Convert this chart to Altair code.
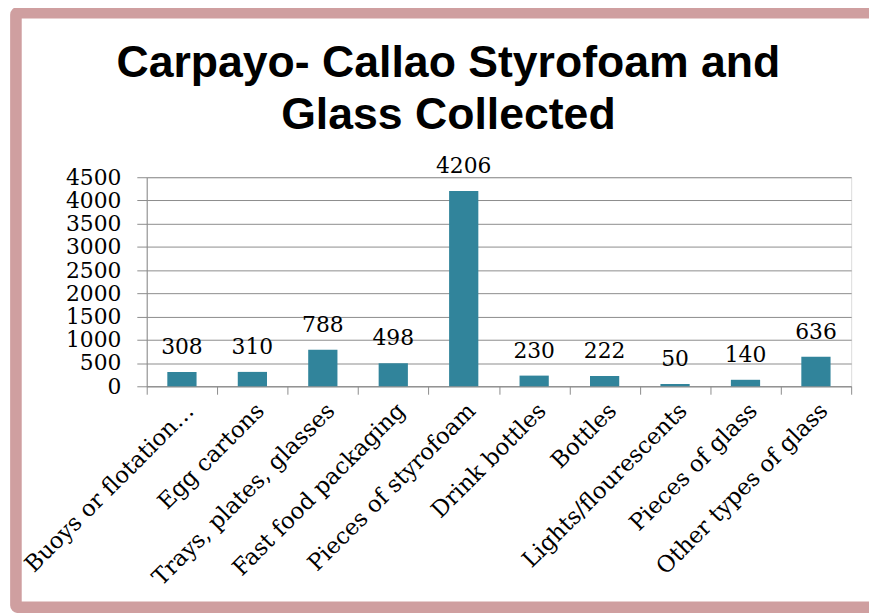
import altair as alt
import pandas as pd

# ---- data ----
categories = [
    "Buoys or flotation…",
    "Egg cartons",
    "Trays, plates, glasses",
    "Fast food packaging",
    "Pieces of styrofoam",
    "Drink bottles",
    "Bottles",
    "Lights/flourescents",
    "Pieces of glass",
    "Other types of glass",
]
counts = [308, 310, 788, 498, 4206, 230, 222, 50, 140, 636]
y_tick_values = [0, 500, 1000, 1500, 2000, 2500, 3000, 3500, 4000, 4500]
title_lines = ["Carpayo- Callao Styrofoam and", "Glass Collected"]

# ---- styling ----
TEAL = "#31849B"
GRID = "#8C8C8C"
PINK = "#CF9FA0"
SERIF = "DejaVu Serif"
TITLE_FONT = "Liberation Sans"

W, H = 711, 211

df = pd.DataFrame({"item": categories, "count": counts})

x_enc = alt.X(
    "item:N",
    sort=categories,
    scale=alt.Scale(paddingInner=0, paddingOuter=0),
    axis=alt.Axis(
        title=None,
        labelAngle=-45,
        labelFont=SERIF,
        labelFontSize=23,
        labelColor="black",
        labelPadding=5,
        labelLimit=500,
        labelOverlap=False,
        tickBand="extent",
        tickSize=8,
        tickColor=GRID,
        domainColor=GRID,
        grid=False,
    ),
)
y_enc = alt.Y(
    "count:Q",
    scale=alt.Scale(domain=[0, 4500], nice=False),
    axis=alt.Axis(
        title=None,
        values=y_tick_values,
        format="d",
        grid=True,
        gridColor=GRID,
        gridWidth=1,
        tickSize=10,
        tickColor=GRID,
        domainColor=GRID,
        labelFont=SERIF,
        labelFontSize=22,
        labelColor="black",
        labelPadding=16,
        labelOverlap=False,
    ),
)

base = alt.Chart(df).encode(x=x_enc, y=y_enc)
bars = base.mark_bar(color=TEAL, width=alt.RelativeBandSize(0.415))
labels = base.mark_text(
    dy=-18, baseline="alphabetic", font=SERIF, fontSize=22, color="black"
).encode(text="count:Q")

# decorative picture frame around the chart
frame = (
    alt.Chart(pd.DataFrame({"frame": [0]}))
    .mark_rect(filled=False, stroke=PINK, strokeWidth=11.7, cornerRadius=2)
    .encode(x=alt.value(-132), x2=alt.value(760), y=alt.value(-166), y2=alt.value(434))
)

chart = (
    alt.layer(frame, bars, labels)
    .properties(
        width=W,
        height=H,
        title=alt.TitleParams(
            text=title_lines,
            font=TITLE_FONT,
            fontSize=45,
            fontWeight="bold",
            color="black",
            lineHeight=52,
            anchor="middle",
            dx=-51,
            offset=-132,
        ),
        padding={"left": 140, "top": 168, "right": 18, "bottom": 226},
        autosize=alt.AutoSizeParams(type="none"),
    )
    .configure_view(stroke=None)
    .configure(background="white")
)

chart.save("out.html", embed_options={"renderer": "svg", "actions": False})
